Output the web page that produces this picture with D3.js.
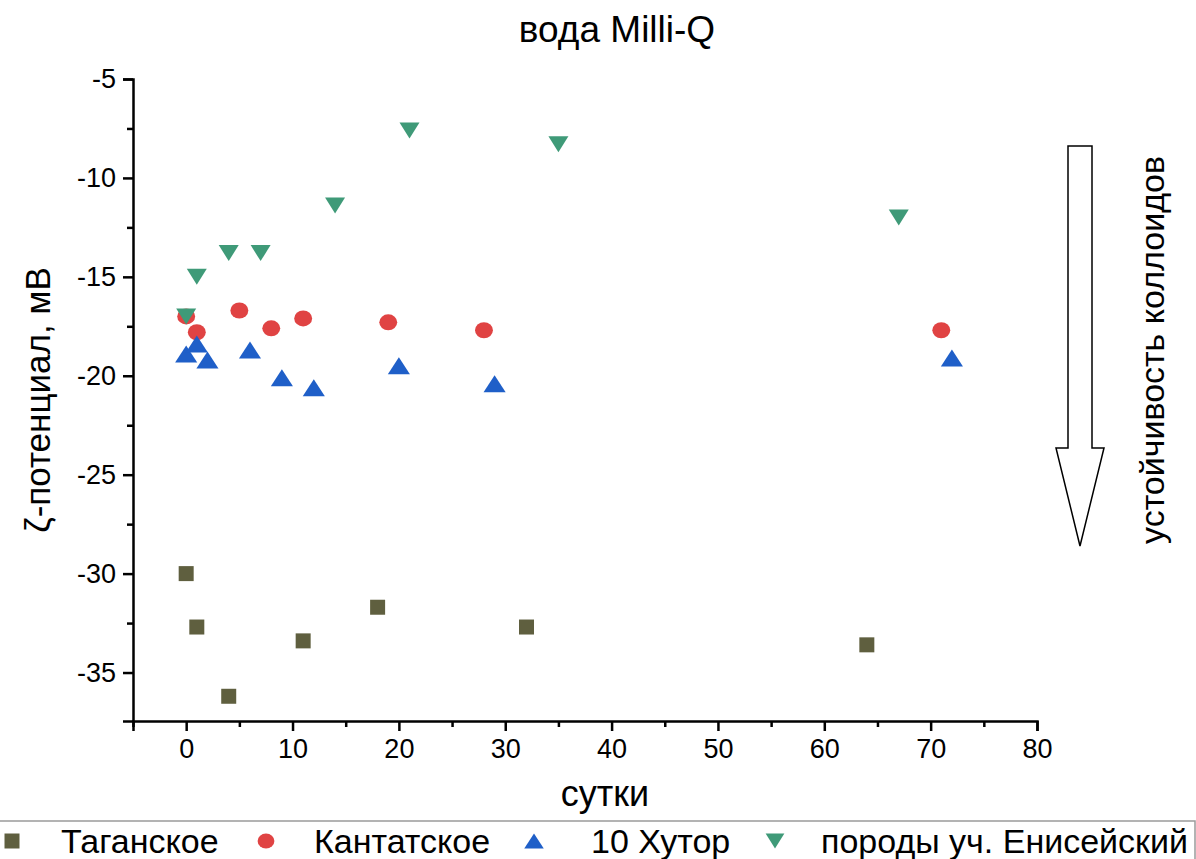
<!DOCTYPE html>
<html>
<head>
<meta charset="utf-8">
<script src="https://cdn.jsdelivr.net/npm/d3@7"></script>
<style>
  body { margin: 0; background: #fff; }
  svg { display: block; font-family: "Liberation Sans", Arial, sans-serif; }
</style>
</head>
<body>
<svg id="chart" width="1196" height="859"></svg>
<script>
// Zeta potential of colloids in Milli-Q water over time (days)
const seriesNames = ["Таганское", "Кантатское", "10 Хутор", "породы уч. Енисейский"];

const taganDays = [0, 1, 4, 11, 18, 32, 64];
const taganZeta = [-30.0, -32.7, -36.2, -33.4, -31.7, -32.7, -33.6];

const kantatDays = [0, 1, 5, 8, 11, 19, 28, 71];
const kantatZeta = [-17.0, -17.8, -16.7, -17.6, -17.1, -17.3, -17.7, -17.7];

const khutorDays = [0, 1, 2, 6, 9, 12, 20, 29, 72];
const khutorZeta = [-18.9, -18.4, -19.2, -18.7, -20.1, -20.6, -19.5, -20.4, -19.1];

const eniseyDays = [0, 1, 4, 7, 14, 21, 35, 67];
const eniseyZeta = [-17.0, -15.0, -13.8, -13.8, -11.4, -7.6, -8.3, -12.0];

const xTicks = [0, 10, 20, 30, 40, 50, 60, 70, 80];
const yTicks = [-5, -10, -15, -20, -25, -30, -35];

const colors = ["#5f5f3f", "#e04343", "#1f5fc8", "#3f9a78"];
const symbols = ["square", "circle", "up", "down"];

const svg = d3.select("#chart");

const x = d3.scaleLinear().domain([-5, 80]).range([133, 1037]);
const y = d3.scaleLinear().domain([-5, -37.45]).range([79, 721]);

// marker outlines centered at 0,0
function ellipsePath(rx, ry) {
  return `M${-rx},0A${rx},${ry} 0 1,0 ${rx},0A${rx},${ry} 0 1,0 ${-rx},0Z`;
}
function shape(kind, s) {
  const p = d3.path();
  if (kind === "circle") return ellipsePath(s * 0.56, s * 0.5);
  if (kind === "square") {
    p.rect(-s / 2, -s / 2, s, s);
  } else if (kind === "up") {
    const w = s * 1.3, h = s;
    p.moveTo(0, -h / 2); p.lineTo(w / 2, h / 2); p.lineTo(-w / 2, h / 2); p.closePath();
  } else {
    const w = s * 1.25, h = s;
    p.moveTo(-w / 2, -h / 2); p.lineTo(w / 2, -h / 2); p.lineTo(0, h / 2); p.closePath();
  }
  return p.toString();
}

// title
svg.append("text").attr("x", 617).attr("y", 42).attr("text-anchor", "middle")
  .attr("font-size", 37).text("вода Milli-Q");

// axes
const xAxis = d3.axisBottom(x).tickValues(xTicks).tickSize(10).tickPadding(8).tickFormat(d3.format("d"));
const xMinor = d3.axisBottom(x).tickValues([-5, 5, 15, 25, 35, 45, 55, 65, 75]).tickSize(6).tickFormat("");
const yAxis = d3.axisLeft(y).tickValues(yTicks).tickSize(10).tickPadding(7).tickFormat(d => d);
const yMinor = d3.axisLeft(y).tickValues([-7.5, -12.5, -17.5, -22.5, -27.5, -32.5]).tickSize(6).tickFormat("");

function styleAxis(g) {
  g.select(".domain").attr("stroke", "#000").attr("stroke-width", 2.5);
  g.selectAll(".tick line").attr("stroke", "#000").attr("stroke-width", 2.5);
  g.selectAll(".tick text").attr("font-size", 27).attr("fill", "#000")
    .attr("font-family", "Liberation Sans, Arial, sans-serif");
}

svg.append("g").attr("transform", "translate(0,721)").call(xAxis).call(styleAxis);
svg.append("g").attr("transform", "translate(0,721)").call(xMinor).call(styleAxis)
  .select(".domain").remove();
svg.append("g").attr("transform", "translate(133,0)").call(yAxis).call(styleAxis);
svg.append("g").attr("transform", "translate(133,0)").call(yMinor).call(styleAxis)
  .select(".domain").remove();

// axis titles
svg.append("text").attr("x", 605).attr("y", 806).attr("text-anchor", "middle")
  .attr("font-size", 36).text("сутки");
svg.append("text").attr("transform", "translate(50,400) rotate(-90)").attr("text-anchor", "middle")
  .attr("font-size", 35).text("ζ-потенциал, мВ");

// data points
const series = [
  { days: taganDays, zeta: taganZeta },
  { days: kantatDays, zeta: kantatZeta },
  { days: khutorDays, zeta: khutorZeta },
  { days: eniseyDays, zeta: eniseyZeta }
];
const sizes = [15, 16, 17, 16];
series.forEach((s, i) => {
  svg.append("g").selectAll("path").data(s.days.map((d, k) => [d, s.zeta[k]]))
    .join("path")
    .attr("transform", d => `translate(${x(d[0])},${y(d[1])})`)
    .attr("d", shape(symbols[i], sizes[i]))
    .attr("fill", colors[i]);
});

// stability arrow
const arrow = d3.path();
arrow.moveTo(1068, 146); arrow.lineTo(1092, 146); arrow.lineTo(1092, 448);
arrow.lineTo(1104, 448); arrow.lineTo(1080, 546); arrow.lineTo(1056, 448);
arrow.lineTo(1068, 448); arrow.closePath();
svg.append("path").attr("d", arrow.toString()).attr("fill", "#fff")
  .attr("stroke", "#000").attr("stroke-width", 1.5);
svg.append("text").attr("transform", "translate(1164,350) rotate(-90)").attr("text-anchor", "middle")
  .attr("font-size", 34).text("устойчивость коллоидов");

// legend
const legend = svg.append("g");
legend.append("rect").attr("x", -2).attr("y", 821).attr("width", 1197).attr("height", 50)
  .attr("fill", "#fff").attr("stroke", "#9a9a9a").attr("stroke-width", 1.5);
const legendSym = [12, 266, 534, 775];
const legendText = [61, 314, 591, 821];
seriesNames.forEach((name, i) => {
  legend.append("path").attr("transform", `translate(${legendSym[i]},841)`)
    .attr("d", shape(symbols[i], 15)).attr("fill", colors[i]);
  legend.append("text").attr("x", legendText[i]).attr("y", 853)
    .attr("font-size", 34).text(name);
});
</script>
</body>
</html>
